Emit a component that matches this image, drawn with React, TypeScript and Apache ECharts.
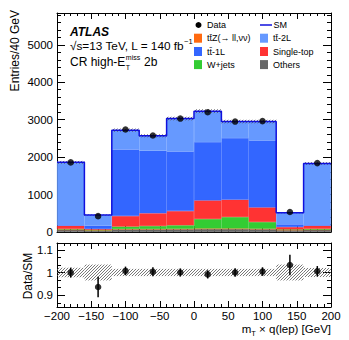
import React, { useEffect, useRef } from "react";
import * as echarts from "echarts";

// ---------------- data ----------------
const binEdges = [-200, -160, -120, -80, -40, 0, 40, 80, 120, 160, 200];
const binCenters = [-180, -140, -100, -60, -20, 20, 60, 100, 140, 180];
const others = [60, 40, 70, 70, 75, 80, 80, 75, 50, 60];
const ttZ = [5, 10, 10, 10, 10, 15, 15, 12, 10, 5];
const wJets = [15, 5, 65, 80, 95, 252, 305, 180, 10, 20];
const singleTop = [88, 25, 282, 340, 380, 498, 462, 391, 63, 83];
const tt1L = [10, 88, 1778, 1670, 1590, 1555, 1645, 1787, 72, 10];
const tt2L = [1682, 285, 515, 400, 880, 827, 443, 505, 311, 1652];
const dataCounts = [1859, 424, 2739, 2578, 3030, 3200, 2950, 2962, 533, 1840];
const ratioErr = [0.022, 0.045, 0.019, 0.02, 0.018, 0.018, 0.019, 0.019, 0.045, 0.023];
const systRel = [0.021, 0.035, 0.016, 0.016, 0.016, 0.016, 0.016, 0.016, 0.035, 0.02];
const mainYTicks = [0, 1000, 2000, 3000, 4000, 5000];
const ratioYTicks = [0.9, 1, 1.1];

const FONT = '"Liberation Sans", Arial, Helvetica, sans-serif';
const COLORS = {
  others: "#666666",
  wjets: "#33cc33",
  ttz: "#ff6a10",
  st: "#ff3333",
  tt1l: "#3366ff",
  tt2l: "#6699ff",
  sm: "#1010dd",
};

function measure(text: string, size: number, weight = "normal", style = "normal") {
  const c = document.createElement("canvas").getContext("2d");
  if (!c) return text.length * size * 0.55;
  c.font = `${style} ${weight} ${size}px ${FONT}`;
  return c.measureText(text).width;
}

function txt(text: string, x: number, y: number, size: number, extra: any = {}) {
  return {
    type: "text",
    x,
    y,
    rotation: extra.rotation || 0,
    silent: true,
    style: {
      text,
      fill: "#000",
      fontSize: size,
      fontFamily: FONT,
      fontWeight: extra.weight || "normal",
      fontStyle: extra.style || "normal",
      textAlign: extra.align || "left",
      textVerticalAlign: "middle",
    },
  };
}

function hatchLines(x0: number, y0: number, x1: number, y1: number, step: number, color: string) {
  // "/" lines: x + y = c
  const children: any[] = [];
  const cStart = Math.floor((x0 + y0) / step) * step;
  for (let c = cStart; c <= x1 + y1; c += step) {
    const xa = Math.max(x0, c - y1);
    const xb = Math.min(x1, c - y0);
    if (xb <= xa) continue;
    children.push({
      type: "line",
      shape: { x1: xa, y1: c - xa, x2: xb, y2: c - xb },
      style: { stroke: color, lineWidth: 0.8 },
    });
  }
  return children;
}

export default function App() {
  const ref = useRef<HTMLDivElement>(null);
  useEffect(() => {
    if (!ref.current) return;
    const chart = echarts.init(ref.current, undefined, { renderer: "svg" });

    const sm = binCenters.map(
      (_, i) => others[i] + ttZ[i] + wJets[i] + singleTop[i] + tt1L[i] + tt2L[i]
    );
    const ratio = dataCounts.map((d, i) => d / sm[i]);
    const smStep: number[][] = sm.map((v, i) => [binEdges[i], v]);
    smStep.push([binEdges[binEdges.length - 1], sm[sm.length - 1]]);
    const mainBand = sm.map((v, i) => [binEdges[i], binEdges[i + 1], v * (1 - systRel[i]), v * (1 + systRel[i])]);
    const ratioBand = sm.map((_, i) => [binEdges[i], binEdges[i + 1], 1 - systRel[i], 1 + systRel[i]]);
    const ratioMinor: number[] = [];
    for (let k = -4; k <= 3; k++) {
      const v = +(1 + k / 30).toFixed(4);
      if (Math.abs(v - 0.9) > 1e-6 && Math.abs(v - 1) > 1e-6 && Math.abs(v - 1.1) > 1e-6 && v > 0.85 && v < 1.13) ratioMinor.push(v);
    }

    const lineBlack = { color: "#000", width: 1 };
    const valX = (grid: number, pos: string, labels: boolean) => ({
      type: "value",
      gridIndex: grid,
      position: pos,
      min: -200,
      max: 200,
      interval: 50,
      axisLine: { show: true, onZero: false, lineStyle: lineBlack },
      axisTick: { show: true, inside: true, length: 6, lineStyle: lineBlack },
      minorTick: { show: true, splitNumber: 5, length: 3, lineStyle: lineBlack },
      splitLine: { show: false },
      minorSplitLine: { show: false },
      axisLabel: {
        show: labels,
        fontSize: 11.5,
        fontFamily: FONT,
        color: "#000",
        margin: 3,
        formatter: (v: number) => String(v).replace("-", "\u2212"),
      },
    });
    const mainY = (pos: string, labels: boolean) => ({
      type: "value",
      gridIndex: 0,
      position: pos,
      min: 0,
      max: 5850,
      interval: 1000,
      axisLine: { show: true, onZero: false, lineStyle: lineBlack },
      axisTick: { show: true, inside: true, length: 8, lineStyle: lineBlack },
      minorTick: { show: true, splitNumber: 5, length: 4, lineStyle: lineBlack },
      splitLine: { show: false },
      minorSplitLine: { show: false },
      axisLabel: {
        show: labels,
        fontSize: 11.5,
        fontFamily: FONT,
        color: "#000",
        margin: 4,
        customValues: mainYTicks,
        formatter: (v: number) => String(Math.round(v)),
      },
    });
    const ratioY = (pos: string, major: boolean) => ({
      type: "value",
      gridIndex: 1,
      position: pos,
      min: 0.848,
      max: 1.13,
      axisLine: { show: major, onZero: false, lineStyle: lineBlack },
      axisTick: {
        show: true,
        inside: true,
        length: major ? 8 : 4,
        lineStyle: lineBlack,
        customValues: major ? ratioYTicks : ratioMinor,
      },
      splitLine: { show: false },
      axisLabel: {
        show: major && pos === "left",
        fontSize: 11.5,
        fontFamily: FONT,
        color: "#000",
        margin: 4,
        customValues: ratioYTicks,
        formatter: (v: number) => (Math.abs(v - 1) < 1e-6 ? "1" : v.toFixed(1)),
      },
    });

    const barSeries = (name: string, data: number[], color: string) => ({
      name,
      type: "bar",
      stack: "sm",
      xAxisIndex: 2,
      yAxisIndex: 0,
      barCategoryGap: "0%",
      barGap: "0%",
      data,
      itemStyle: { color, borderColor: color, borderWidth: 0.4 },
      z: 2,
    });

    const hatchRender = (step: number, color: string) => (params: any, api: any) => {
      const pA = api.coord([api.value(0), api.value(3)]);
      const pB = api.coord([api.value(1), api.value(2)]);
      return {
        type: "group",
        children: hatchLines(pA[0], pA[1], pB[0], pB[1], step, color),
      };
    };

    // ---------- text / legend graphics ----------
    const g: any[] = [];
    g.push(txt("ATLAS", 70, 32, 12, { weight: "bold", style: "italic" }));
    g.push(txt("\u221As=13 TeV, L = 140 fb", 70, 45.5, 11.8));
    g.push(txt("\u22121", 184, 41.5, 7.5));
    const l3 = "CR high-E";
    const w3 = measure(l3, 12);
    g.push(txt(l3, 70, 62, 12));
    g.push(txt("miss", 70 + w3 + 0.5, 57.5, 7));
    g.push(txt("T", 70 + w3 + 0.5, 67.5, 7));
    g.push(txt(" 2b", 70 + w3 + 1 + measure("miss", 7), 62, 12));

    // legend
    const rows = [25, 38.2, 51.5, 64.6];
    const col1 = 194, col2 = 260;
    g.push({ type: "circle", shape: { cx: 198.5, cy: rows[0], r: 3 }, style: { fill: "#000" }, silent: true });
    g.push(txt("Data", 207, rows[0], 9));
    g.push({ type: "line", shape: { x1: col2, y1: rows[0], x2: col2 + 12, y2: rows[0] }, style: { stroke: COLORS.sm, lineWidth: 1.5 }, silent: true });
    g.push(txt("SM", 273.5, rows[0], 9));
    const entries: [string, string, number, number][] = [
      ["tt\u0304Z(\u2192 ll,\u03BD\u03BD)", COLORS.ttz, col1, rows[1]],
      ["tt\u0304-2L", COLORS.tt2l, col2, rows[1]],
      ["tt\u0304-1L", COLORS.tt1l, col1, rows[2]],
      ["Single-top", COLORS.st, col2, rows[2]],
      ["W+jets", COLORS.wjets, col1, rows[3]],
      ["Others", COLORS.others, col2, rows[3]],
    ];
    entries.forEach(([label, color, x, y]) => {
      g.push({ type: "rect", shape: { x, y: y - 4.5, width: 8, height: 9 }, style: { fill: color }, silent: true });
      g.push(txt(label, x + 13, y, 9));
    });

    // axis titles
    g.push(txt("Entries/40 GeV", 15, 10, 12, { rotation: Math.PI / 2, align: "right" }));
    g.push(txt("Data/SM", 28, 276, 12, { rotation: Math.PI / 2, align: "center" }));
    const xt2 = " \u00D7 q(lep) [GeV]";
    const wm = measure("m", 11.5);
    const wT = measure("T", 7.5);
    const wx2 = measure(xt2, 11.5);
    const xStart = 331 - (wm + wT + wx2);
    g.push(txt("m", xStart, 329, 11.5));
    g.push(txt("T", xStart + wm, 333, 7.5));
    g.push(txt(xt2, xStart + wm + wT, 329, 11.5));

    const option: any = {
      animation: false,
      backgroundColor: "#fff",
      grid: [
        { left: 57, right: 18, top: 13, height: 219 },
        { left: 57, right: 18, top: 243, height: 64 },
      ],
      xAxis: [
        valX(0, "bottom", false),
        valX(0, "top", false),
        { type: "category", gridIndex: 0, position: "bottom", data: binCenters.map(String), show: false, boundaryGap: true },
        valX(1, "bottom", true),
        valX(1, "top", false),
      ],
      yAxis: [
        mainY("left", true),
        mainY("right", false),
        ratioY("left", true),
        ratioY("left", false),
        ratioY("right", true),
        ratioY("right", false),
      ],
      series: [
        barSeries("Others", others, COLORS.others),
        barSeries("ttZ", ttZ, COLORS.ttz),
        barSeries("W+jets", wJets, COLORS.wjets),
        barSeries("Single-top", singleTop, COLORS.st),
        barSeries("tt-1L", tt1L, COLORS.tt1l),
        barSeries("tt-2L", tt2L, COLORS.tt2l),
        {
          name: "SM band",
          type: "custom",
          xAxisIndex: 0,
          yAxisIndex: 0,
          data: mainBand,
          encode: { x: [0, 1], y: [2, 3] },
          renderItem: hatchRender(3, "#555"),
          z: 3,
          silent: true,
        },
        {
          name: "SM",
          type: "line",
          xAxisIndex: 0,
          yAxisIndex: 0,
          step: "end",
          data: smStep,
          symbol: "none",
          lineStyle: { color: COLORS.sm, width: 1.5 },
          z: 4,
          silent: true,
        },
        {
          name: "Data",
          type: "scatter",
          xAxisIndex: 0,
          yAxisIndex: 0,
          data: binCenters.map((c, i) => [c, dataCounts[i]]),
          symbol: "circle",
          symbolSize: 6.5,
          itemStyle: { color: "#000" },
          z: 5,
          silent: true,
        },
        {
          name: "Ratio band",
          type: "custom",
          xAxisIndex: 3,
          yAxisIndex: 2,
          data: ratioBand,
          encode: { x: [0, 1], y: [2, 3] },
          renderItem: hatchRender(3, "#555"),
          z: 3,
          silent: true,
        },
        {
          name: "Ratio err",
          type: "custom",
          xAxisIndex: 3,
          yAxisIndex: 2,
          data: binCenters.map((c, i) => [c, ratio[i] - ratioErr[i], ratio[i] + ratioErr[i]]),
          encode: { x: 0, y: [1, 2] },
          renderItem: (params: any, api: any) => {
            const p1 = api.coord([api.value(0), api.value(1)]);
            const p2 = api.coord([api.value(0), api.value(2)]);
            return {
              type: "line",
              shape: { x1: p1[0], y1: p1[1], x2: p2[0], y2: p2[1] },
              style: { stroke: "#000", lineWidth: 1.5 },
            };
          },
          z: 4,
          silent: true,
        },
        {
          name: "Ratio",
          type: "scatter",
          xAxisIndex: 3,
          yAxisIndex: 2,
          data: binCenters.map((c, i) => [c, ratio[i]]),
          symbol: "circle",
          symbolSize: 6.5,
          itemStyle: { color: "#000" },
          z: 5,
          silent: true,
        },
      ],
      graphic: g,
    };
    chart.setOption(option);
    return () => chart.dispose();
  }, []);

  return (
    <div
      ref={ref}
      style={{ position: "fixed", left: 0, top: 0, width: 349, height: 340, background: "#fff" }}
    />
  );
}
